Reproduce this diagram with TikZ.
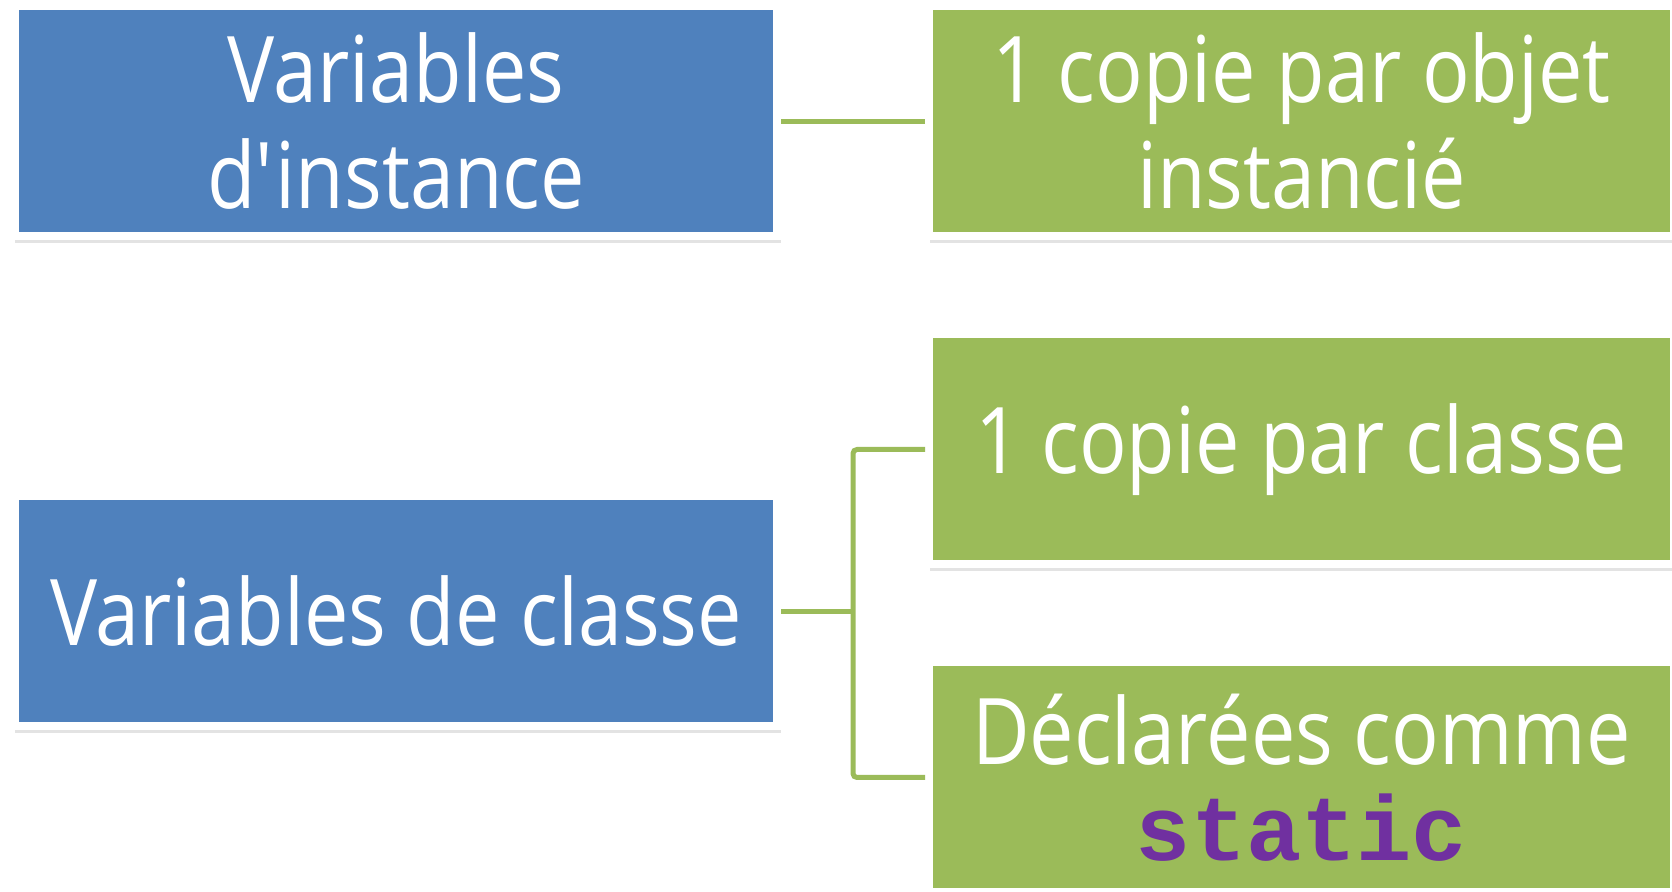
\documentclass[tikz,border=0pt]{standalone}
\usepackage{fontspec}
\setmainfont[FakeStretch=0.86]{Open Sans}
\newfontfamily\codefont{Liberation Mono}
\usetikzlibrary{positioning}
\usetikzlibrary{shadows}
\definecolor{varblue}{HTML}{4F81BD}
\definecolor{factgreen}{HTML}{9BBB59}
\definecolor{codepurple}{HTML}{7030A0}

\begin{document}
\begin{tikzpicture}
  [node distance=126pt and 72pt,
   box/.style={rectangle,draw=white,line width=4pt,text=white,align=center,inner sep=0pt,minimum height=115pt,font=\fontsize{46}{53}\selectfont,drop shadow={shadow xshift=1pt,shadow yshift=-2.8pt,shadow scale=1.004,opacity=0.22}},
   var node/.style={box,fill=varblue,minimum width=381pt},
   fact node/.style={box,fill=factgreen,minimum width=372.5pt},
   link/.style={draw=factgreen,line width=2.5pt}]
  \clip (0,0) rectangle (836pt,-446pt);
  \node[var node]   (InstVars)                          at (198pt,-60.75pt) {Variables\\d\textquotesingle instance};
  \node[fact node]  (PerObject) [right= of InstVars]    {1 copie par objet\\instancié};
  \node[var node]   (ClassVars) [below= of InstVars]    {Variables de classe};
  \node[fact node]  (PerClass)  [below= 45pt of PerObject] {1 copie par classe};
  \node[fact node]  (Static)    [below= 45pt of PerClass]  {Déclarées comme\\[-5pt]{\codefont\bfseries\color{codepurple}static}};

  \path[link]
    (InstVars) edge (PerObject);
  \draw[link] (ClassVars.east) -- ++(36pt,0) coordinate (Fork);
  \draw[link,rounded corners=2pt] (PerClass.west) -| (Fork) |- (Static.west);

\end{tikzpicture}
\end{document}
